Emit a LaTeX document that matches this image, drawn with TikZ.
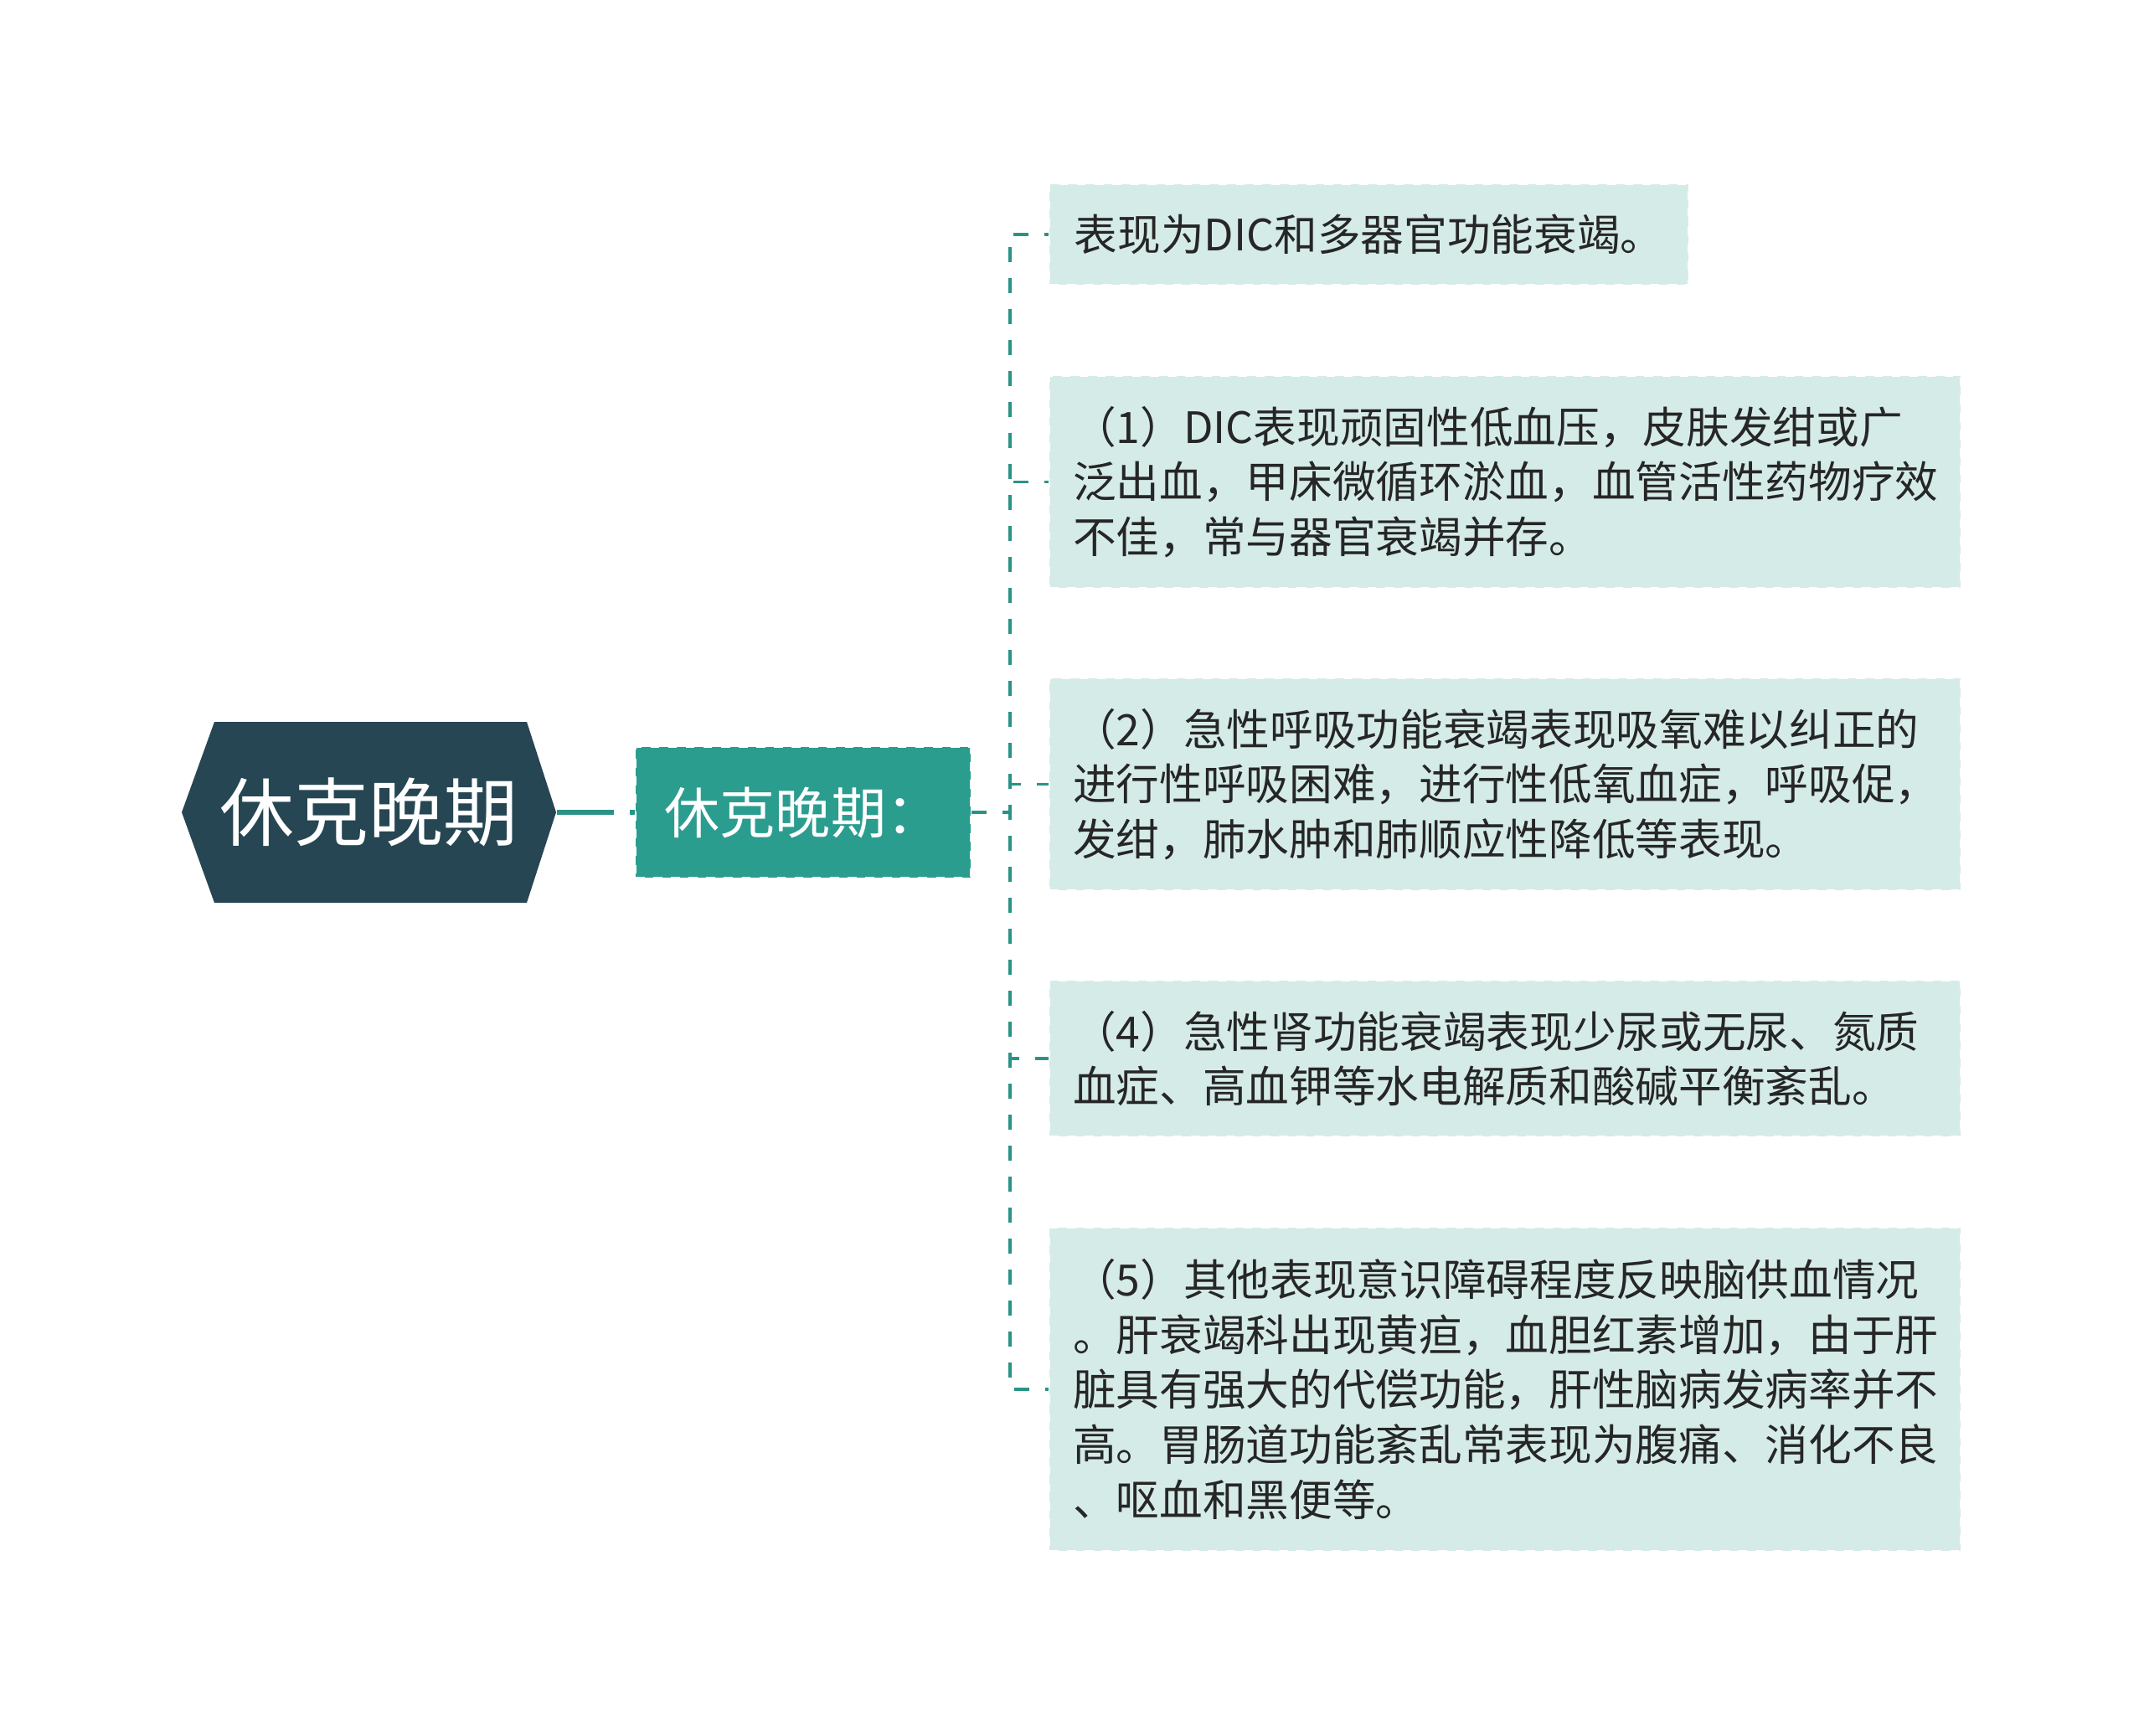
\documentclass[tikz,border=0pt]{standalone}
\usepackage{fontspec}
\setmainfont{Noto Sans CJK SC}
\usepackage{tikz}
\definecolor{rootcol}{HTML}{264653}
\definecolor{midcol}{HTML}{2A9D8F}
\definecolor{leafcol}{HTML}{D5EBE8}
\definecolor{linkcol}{HTML}{2A9386}
\definecolor{txtcol}{HTML}{262626}

\begin{document}
\begin{tikzpicture}[
  leafbox/.style={fill=leafcol, draw=white, dashed, line width=0.6pt, anchor=west, text=txtcol, align=left,
    font=\fontsize{14.7pt}{18.7pt}\selectfont, inner xsep=0.28cm, inner ysep=0pt},
  trunk/.style={draw=linkcol, line width=0.035cm, dash pattern=on 0.18cm off 0.19cm},
]
\def\lx{12.52}
\useasboundingbox (0,0) rectangle (25.6,-20.73);
%root
\fill[rootcol] (2.17,-9.70) -- (2.56,-8.62) -- (6.29,-8.62) -- (6.64,-9.70) -- (6.29,-10.78) -- (2.56,-10.78) -- cycle;
\node[text=white, font=\fontsize{25.3pt}{30pt}\selectfont, minimum width=4.47cm, minimum height=2.16cm, inner sep=0pt] (root) at (4.405,-9.70) {休克晚期};
%mid
\node[fill=midcol, draw=white, dashed, line width=0.6pt, text=white, font=\fontsize{18.8pt}{22pt}\selectfont,
  minimum width=4.00cm, minimum height=1.56cm, inner sep=0pt] (mid) at (9.59,-9.70) {休克晚期：};
%leaves
\node[leafbox, minimum width=7.63cm, minimum height=1.20cm] (leaf1) at (\lx,-2.80) {表现为DIC和多器官功能衰竭。};
\node[leafbox, text width=10.32cm, minimum height=2.53cm] (leaf2) at (\lx,-5.755) {（1）DIC表现顽固性低血压，皮肤发绀或广\\泛出血，甲床微循环淤血，血管活性药物疗效\\不佳，常与器官衰竭并存。};
\node[leafbox, text width=10.32cm, minimum height=2.53cm] (leaf3) at (\lx,-9.365) {（2）急性呼吸功能衰竭表现吸氧难以纠正的\\进行性呼吸困难，进行性低氧血症，呼吸促，\\发绀，肺水肿和肺顺应性降低等表现。};
\node[leafbox, text width=10.32cm, minimum height=1.86cm] (leaf4) at (\lx,-12.64) {（4）急性肾功能衰竭表现少尿或无尿、氮质\\血症、高血钾等水电解质和酸碱平衡紊乱。};
\node[leafbox, text width=10.32cm, minimum height=3.86cm] (leaf5) at (\lx,-16.59) {（5）其他表现意识障碍程度反映脑供血情况\\。肝衰竭科出现黄疸，血胆红素增加，由于肝\\脏具有强大的代偿功能，肝性脑病发病率并不\\高。胃肠道功能紊乱常表现为腹痛、消化不良\\、呕血和黑便等。};
%links
\draw[trunk, line width=0.055cm, dash pattern=on 0.68cm off 0.19cm] (root.east) -- (mid.west);
\coordinate (jn) at (12.06,-9.70);
\foreach \k in {1,...,5} \draw[trunk] (mid.east) -- (jn) |- (leaf\k.west);
\end{tikzpicture}
\end{document}
